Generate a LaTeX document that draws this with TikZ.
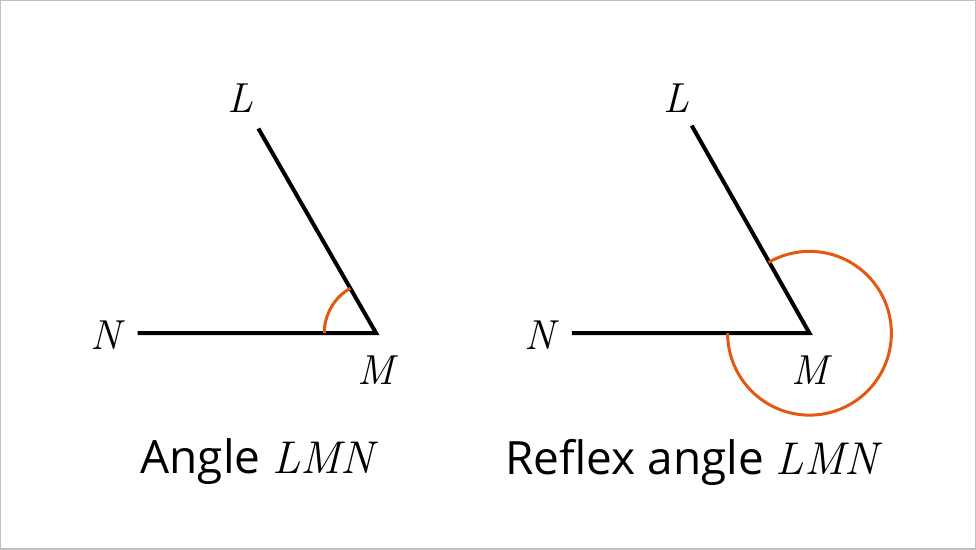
\documentclass[tikz,border=0pt]{standalone}
\usepackage{fontspec}
\setmainfont{Open Sans}
\newfontfamily\letterfont{Latin Modern Roman}
\newcommand{\pt}[1]{{\letterfont\itshape #1}}
\definecolor{arcorange}{RGB}{228,88,18}
\tikzset{
  ray/.style={line width=4pt, black},
  anglearc/.style={line width=3pt, arcorange},
  pointlabel/.style={font=\fontsize{42}{48}\selectfont},
  caption/.style={font=\fontsize{46}{52}\selectfont}
}
\begin{document}
\begin{tikzpicture}[x=1pt,y=-1pt]
    % Frame
    \draw[gray!50, line width=1.5pt, fill=white] (0,0) rectangle (976,549);

    % Angle LMN
    \coordinate (M1) at (376,333);
    \coordinate (N1) at (137,333);
    \coordinate (L1) at (258,128);
    \draw[ray, line join=miter] (N1) -- (M1) -- (L1);
    \draw[anglearc] (M1) ++(180:52) arc[start angle=180, end angle=240, radius=52];
    \node[pointlabel] (l1) at (240,98) {\pt{L}};
    \node[pointlabel] (n1) at (105,335) {\pt{N}};
    \node[pointlabel] (m1) at (376,370) {\pt{M}};
    \node[caption] (c1) at (257,462) {Angle \pt{LMN}};

    % Reflex angle LMN
    \coordinate (M2) at (810,333);
    \coordinate (N2) at (572,333);
    \coordinate (L2) at (692,125);
    \draw[ray, line join=miter] (N2) -- (M2) -- (L2);
    \draw[anglearc] (M2) ++(180:82) arc[start angle=180, end angle=-120, radius=82];
    \node[pointlabel] (l2) at (677,98) {\pt{L}};
    \node[pointlabel] (n2) at (540,335) {\pt{N}};
    \node[pointlabel] (m2) at (810,370) {\pt{M}};
    \node[caption] (c2) at (692,462) {Reflex angle \pt{LMN}};
\end{tikzpicture}
\end{document}
